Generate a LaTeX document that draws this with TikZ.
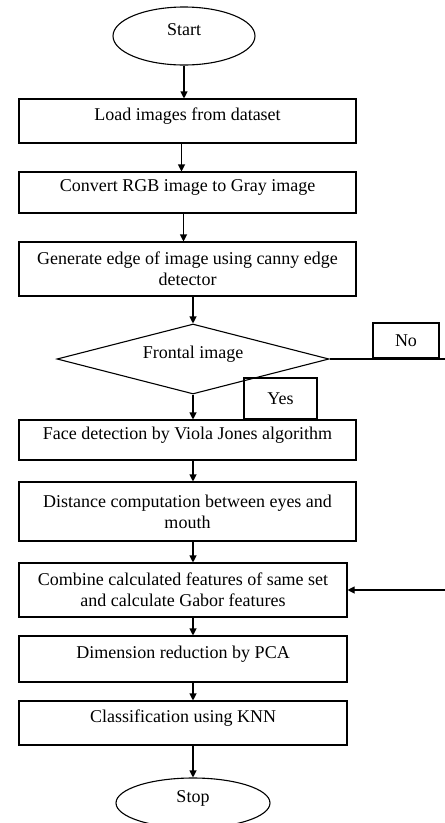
\documentclass[tikz,border=0pt]{standalone}
\usepackage{fontspec}
\setmainfont{Liberation Serif}
\usetikzlibrary{shapes.geometric,arrows.meta}

\tikzset{
  box/.style={draw, rectangle, align=center, inner sep=0pt},
  oneline/.style={text height=12pt, text depth=14pt},
  terminal/.style={draw, ellipse, inner sep=0pt},
  decision/.style={draw, diamond, aspect=3.9, inner sep=0pt},
  tag/.style={draw, rectangle, inner sep=0pt}
}

\begin{document}
\begin{tikzpicture}[x=1pt, y=-1pt, >={Triangle[length=7pt,width=7pt]}, line width=1.1pt, font=\fontsize{18}{21}\selectfont]
\useasboundingbox (0,0) rectangle (445,823);
\coordinate (rim) at (445,0);

\node[terminal, oneline, minimum width=142pt, minimum height=58pt] (start) at (184,36) {Start};
\node[box, oneline, minimum width=337pt, minimum height=44pt] (load) at (187.5,121) {Load images from dataset};
\node[box, oneline, minimum width=337pt, minimum height=41pt] (gray) at (187.5,192.5) {Convert RGB image to Gray image};
\node[box, minimum width=337pt, minimum height=54pt] (edge) at (187.5,269) {Generate edge of image using canny edge\\detector};
\node[decision, oneline, minimum width=272pt, minimum height=70pt] (frontal) at (193,359) {Frontal image};
\node[tag, minimum width=66pt, minimum height=35pt] (no) at (406,340.5) {No};
\node[tag, minimum width=73pt, minimum height=41pt] (yes) at (280.5,398.5) {Yes};
\node[box, oneline, minimum width=337pt, minimum height=40pt] (face) at (187.5,440) {Face detection by Viola Jones algorithm};
\node[box, minimum width=337pt, minimum height=59pt] (dist) at (187.5,511.5) {Distance computation between eyes and\\mouth};
\node[box, minimum width=328pt, minimum height=54pt] (combine) at (183,590) {Combine calculated features of same set\\and calculate Gabor features};
\node[box, oneline, minimum width=328pt, minimum height=46pt] (pca) at (183,659) {Dimension reduction by PCA};
\node[box, oneline, minimum width=328pt, minimum height=44pt] (knn) at (183,723) {Classification using KNN};
\node[terminal, oneline, minimum width=154pt, minimum height=50pt] (stop) at (193,803) {Stop};

\draw[->] (start) -- (start |- load.north);
\draw[->] ([xshift=-6pt]load.south) -- ([xshift=-6pt]gray.north);
\draw[->] ([xshift=-4pt]gray.south) -- ([xshift=-4pt]edge.north);
\draw[->] (edge.south -| frontal) -- (frontal.north);
\draw[->] (frontal.south) -- (frontal.south |- face.north);
\draw[->] (face.south -| frontal) -- (dist.north -| frontal);
\draw[->] (dist.south -| frontal) -- (combine.north -| frontal);
\draw[->] (combine.south -| frontal) -- (pca.north -| frontal);
\draw[->] (pca.south -| frontal) -- (knn.north -| frontal);
\draw[->] (knn.south -| stop) -- (stop.north);

\draw (frontal.east) -- (frontal.east -| rim);
\draw[->] (combine.east -| rim) -- (combine.east);
\end{tikzpicture}
\end{document}
